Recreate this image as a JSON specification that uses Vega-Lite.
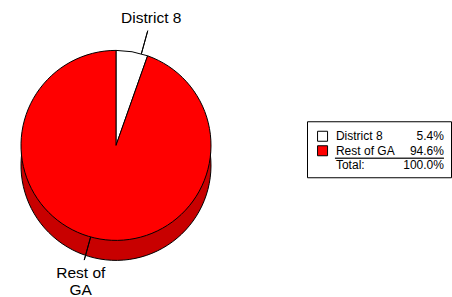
{
  "$schema": "https://vega.github.io/schema/vega-lite/v6.json",
  "padding": {"left": 0, "top": 0, "right": 0, "bottom": 7},
  "background": "white",
  "config": {"view": {"stroke": null}, "font": "Liberation Sans", "text": {"font": "Liberation Sans"}},
  "datasets": {
    "shares": [
      {"region": "District 8", "share": 5.4},
      {"region": "Rest of GA", "share": 94.6}
    ],
    "callouts": [
      {"label": "District 8", "at": 4.3},
      {"label": "Rest of\nGA", "at": 54.3}
    ],
    "table": [
      {"label": "District 8", "value": "5.4%"},
      {"label": "Rest of GA", "value": "94.6%"},
      {"label": "Total:", "value": "100.0%"}
    ]
  },
  "spacing": 74,
  "center": true,
  "hconcat": [
    {
      "width": 232,
      "height": 290,
      "layer": [
        {
          "data": {"name": "shares"},
          "mark": {"type": "arc", "outerRadius": 95, "yOffset": 20, "color": "#C80000", "stroke": "black", "strokeWidth": 1},
          "encoding": {"theta": {"field": "share", "type": "quantitative"}}
        },
        {
          "data": {"name": "shares"},
          "mark": {"type": "arc", "outerRadius": 95, "stroke": "black", "strokeWidth": 1},
          "encoding": {
            "theta": {"field": "share", "type": "quantitative"},
            "color": {"field": "region", "type": "nominal", "scale": {"domain": ["District 8", "Rest of GA"], "range": ["#FFFFFF", "#FF0000"]}, "legend": null}
          }
        },
        {
          "data": {"name": "callouts"},
          "mark": {"type": "arc", "stroke": "black", "strokeWidth": 1, "fill": null},
          "encoding": {
            "theta": {"field": "at", "type": "quantitative", "stack": null},
            "theta2": {"field": "at"},
            "radius": {"value": 95},
            "radius2": {"condition": {"test": "datum.at > 25", "value": 122}, "value": 119}
          }
        },
        {
          "data": {"name": "callouts"},
          "mark": {"type": "text", "fontSize": 15.5, "lineBreak": "\n", "color": "black"},
          "encoding": {
            "theta": {"field": "at", "type": "quantitative", "stack": null},
            "radius": {"condition": {"test": "datum.at > 25", "value": 139}, "value": 132},
            "text": {"field": "label"}
          }
        }
      ]
    },
    {
      "width": 144,
      "height": 56,
      "view": {"stroke": "black", "strokeWidth": 1},
      "data": {"name": "table"},
      "encoding": {
        "y": {"field": "label", "type": "nominal", "scale": {"type": "point", "domain": ["District 8", "Rest of GA", "Total:"], "padding": 0.931, "align": 0.556}, "axis": null}
      },
      "layer": [
        {
          "transform": [{"filter": "datum.label !== 'Total:'"}],
          "mark": {"type": "square", "size": 100, "stroke": "black", "strokeWidth": 1, "opacity": 1},
          "encoding": {
            "x": {"datum": 0.108, "type": "quantitative", "scale": {"domain": [0, 1], "nice": false, "zero": false}, "axis": null},
            "fill": {"field": "label", "type": "nominal", "scale": {"domain": ["District 8", "Rest of GA"], "range": ["#FFFFFF", "#FF0000"]}, "legend": null}
          }
        },
        {
          "mark": {"type": "text", "align": "left", "fontSize": 12, "color": "black"},
          "encoding": {
            "x": {"datum": 0.201, "type": "quantitative"},
            "text": {"field": "label"}
          }
        },
        {
          "mark": {"type": "text", "align": "right", "fontSize": 12, "color": "black"},
          "encoding": {
            "x": {"datum": 0.951, "type": "quantitative"},
            "text": {"field": "value"}
          }
        },
        {
          "transform": [{"filter": "datum.label === 'Total:'"}],
          "mark": {"type": "rule", "color": "#333333", "strokeWidth": 1.5, "yOffset": -7},
          "encoding": {
            "x": {"datum": 0.194, "type": "quantitative"},
            "x2": {"datum": 0.951},
            "y": {"datum": "Total:"}
          }
        }
      ]
    }
  ]
}
